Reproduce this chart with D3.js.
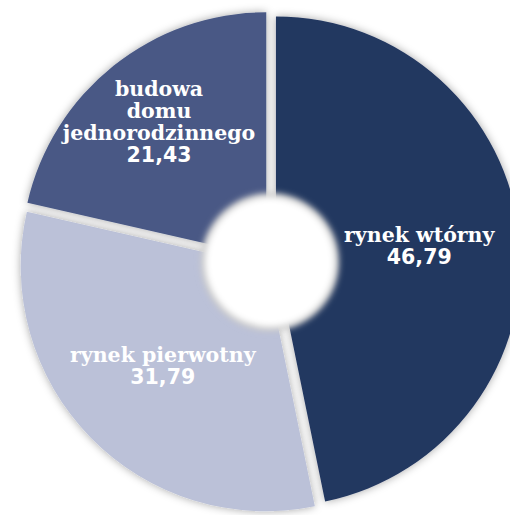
<!DOCTYPE html>
<html>
<head>
<meta charset="utf-8">
<script src="https://cdn.jsdelivr.net/npm/d3@7"></script>
<style>
  body { margin: 0; background: #fff; }
  svg { display: block; }
</style>
</head>
<body>
<div id="chart-area"></div>
<script>
// Data
const categories = ["rynek wtórny", "rynek pierwotny", "budowa domu jednorodzinnego"]
const values = [46.79, 31.79, 21.43]
const labelLines = [["rynek wtórny"], ["rynek pierwotny"], ["budowa", "domu", "jednorodzinnego"]]
const colors = ["#243760", "#bbc1d8", "#4a5985"]

const width = 510, height = 515
const cx = 270, cy = 262
const outerR = 245, innerR = 55, holeR = 67
const explode = 6

const svg = d3.select("#chart-area").append("svg")
    .attr("width", width)
    .attr("height", height)

const defs = svg.append("defs")
const shadow = defs.append("filter")
    .attr("id", "shadow")
    .attr("x", "-20%").attr("y", "-20%")
    .attr("width", "140%").attr("height", "140%")
shadow.append("feDropShadow")
    .attr("dx", 0).attr("dy", 0)
    .attr("stdDeviation", 4)
    .attr("flood-color", "#000")
    .attr("flood-opacity", 0.35)

const holeShadow = defs.append("filter")
    .attr("id", "hole-shadow")
    .attr("x", "-30%").attr("y", "-30%")
    .attr("width", "160%").attr("height", "160%")
holeShadow.append("feGaussianBlur").attr("stdDeviation", 3)

const g = svg.append("g")
    .attr("transform", `translate(${cx}, ${cy})`)

const data = categories.map((c, i) => ({name: c, value: values[i], lines: labelLines[i], color: colors[i]}))

const pie = d3.pie()
    .sort(null)
    .value(d => d.value)

const arc = d3.arc()
    .innerRadius(innerR)
    .outerRadius(outerR)

const arcs = pie(data)

const offset = d => {
    const a = (d.startAngle + d.endAngle) / 2
    return [Math.sin(a) * explode, -Math.cos(a) * explode]
}

// Slices
g.selectAll(".slice")
    .data(arcs)
    .enter().append("path")
    .attr("class", "slice")
    .attr("d", arc)
    .attr("fill", d => d.data.color)
    .attr("filter", "url(#shadow)")
    .attr("transform", d => `translate(${offset(d)})`)

// Center hole with soft edge
g.append("circle")
    .attr("r", holeR + 2)
    .attr("fill", "#c8c8c8")
    .attr("filter", "url(#hole-shadow)")
g.append("circle")
    .attr("r", holeR - 2)
    .attr("fill", "#fff")
    .attr("filter", "url(#hole-shadow)")

// Labels
const lineH = 22
const labels = g.selectAll(".label")
    .data(arcs)
    .enter().append("text")
    .attr("class", "label")
    .attr("text-anchor", "middle")
    .attr("fill", "#fff")
    .attr("font-weight", "bold")
    .attr("font-size", "20.5px")
    .attr("transform", d => {
        const a = (d.startAngle + d.endAngle) / 2
        const r = d.data.lines.length > 1 ? 178 : 150
        return `translate(${Math.sin(a) * r}, ${-Math.cos(a) * r})`
    })

labels.each(function (d) {
    const t = d3.select(this)
    const all = d.data.lines.concat([d3.format(".2f")(d.data.value).replace(".", ",")])
    const n = all.length
    all.forEach((s, i) => {
        t.append("tspan")
            .attr("x", 0)
            .attr("y", (i - (n - 1) / 2) * lineH + 6)
            .attr("font-family", i === n - 1 ? "'DejaVu Sans', sans-serif" : "'DejaVu Serif', serif")
            .text(s)
    })
})
</script>
</body>
</html>
